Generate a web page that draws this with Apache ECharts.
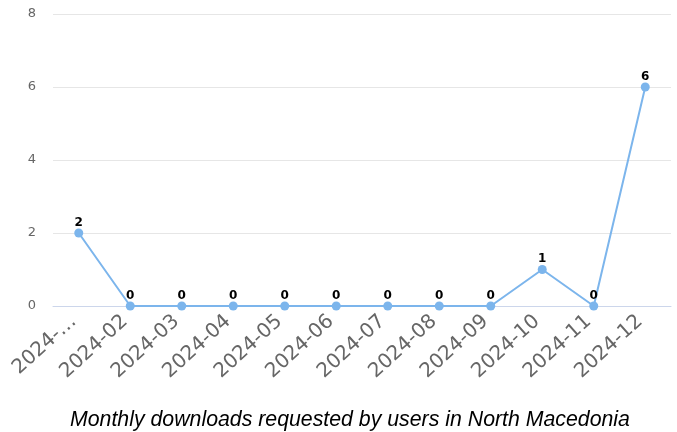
<!DOCTYPE html>
<html>
<head>
<meta charset="utf-8">
<script src="https://cdn.jsdelivr.net/npm/echarts@6/dist/echarts.min.js"></script>
<style>
  html, body { margin: 0; padding: 0; background: #fff; }
  #chart { width: 677px; height: 432px; }
</style>
</head>
<body>
<div id="chart"></div>
<script>
  // months and download counts
  var months = ['2024-01', '2024-02', '2024-03', '2024-04', '2024-05', '2024-06',
                '2024-07', '2024-08', '2024-09', '2024-10', '2024-11', '2024-12'];
  var downloads = [2, 0, 0, 0, 0, 0, 0, 0, 0, 1, 0, 6];
  var yTicks = [0, 2, 4, 6, 8];
  var chartTitle = 'Monthly downloads requested by users in North Macedonia';

  var chart = echarts.init(document.getElementById('chart'));
  chart.setOption({
    animation: false,
    title: {
      text: chartTitle,
      left: 65,
      bottom: -4,
      textStyle: {
        fontFamily: 'Liberation Sans',
        fontStyle: 'italic',
        fontWeight: 'normal',
        fontSize: 21.3,
        color: '#000'
      }
    },
    grid: {
      left: 53,
      right: 6,
      top: 14,
      bottom: 126,
      containLabel: false
    },
    xAxis: {
      type: 'category',
      data: months,
      boundaryGap: true,
      axisLine: { lineStyle: { color: '#ccd6eb' } },
      axisTick: { show: false },
      axisLabel: {
        rotate: 42,
        interval: 0,
        margin: 8,
        padding: [0, 7, 0, 0],
        fontSize: 20,
        fontFamily: 'DejaVu Sans',
        color: '#666',
        formatter: function (v, i) {
          return i === 0 ? v.slice(0, 5) + '…' : v;
        }
      }
    },
    yAxis: {
      type: 'value',
      min: yTicks[0],
      max: yTicks[yTicks.length - 1],
      interval: 2,
      axisLine: { show: false },
      axisTick: { show: false },
      splitLine: { lineStyle: { color: '#e6e6e6' } },
      axisLabel: {
        fontSize: 13,
        fontFamily: 'DejaVu Sans',
        color: '#666',
        margin: 17
      }
    },
    series: [{
      type: 'line',
      data: downloads,
      symbol: 'circle',
      symbolSize: 9,
      itemStyle: { color: '#7cb5ec' },
      lineStyle: { color: '#7cb5ec', width: 2 },
      label: {
        show: true,
        position: 'top',
        distance: 0,
        fontSize: 12,
        fontWeight: 'bold',
        fontFamily: 'DejaVu Sans',
        color: '#000'
      }
    }]
  });
</script>
</body>
</html>
